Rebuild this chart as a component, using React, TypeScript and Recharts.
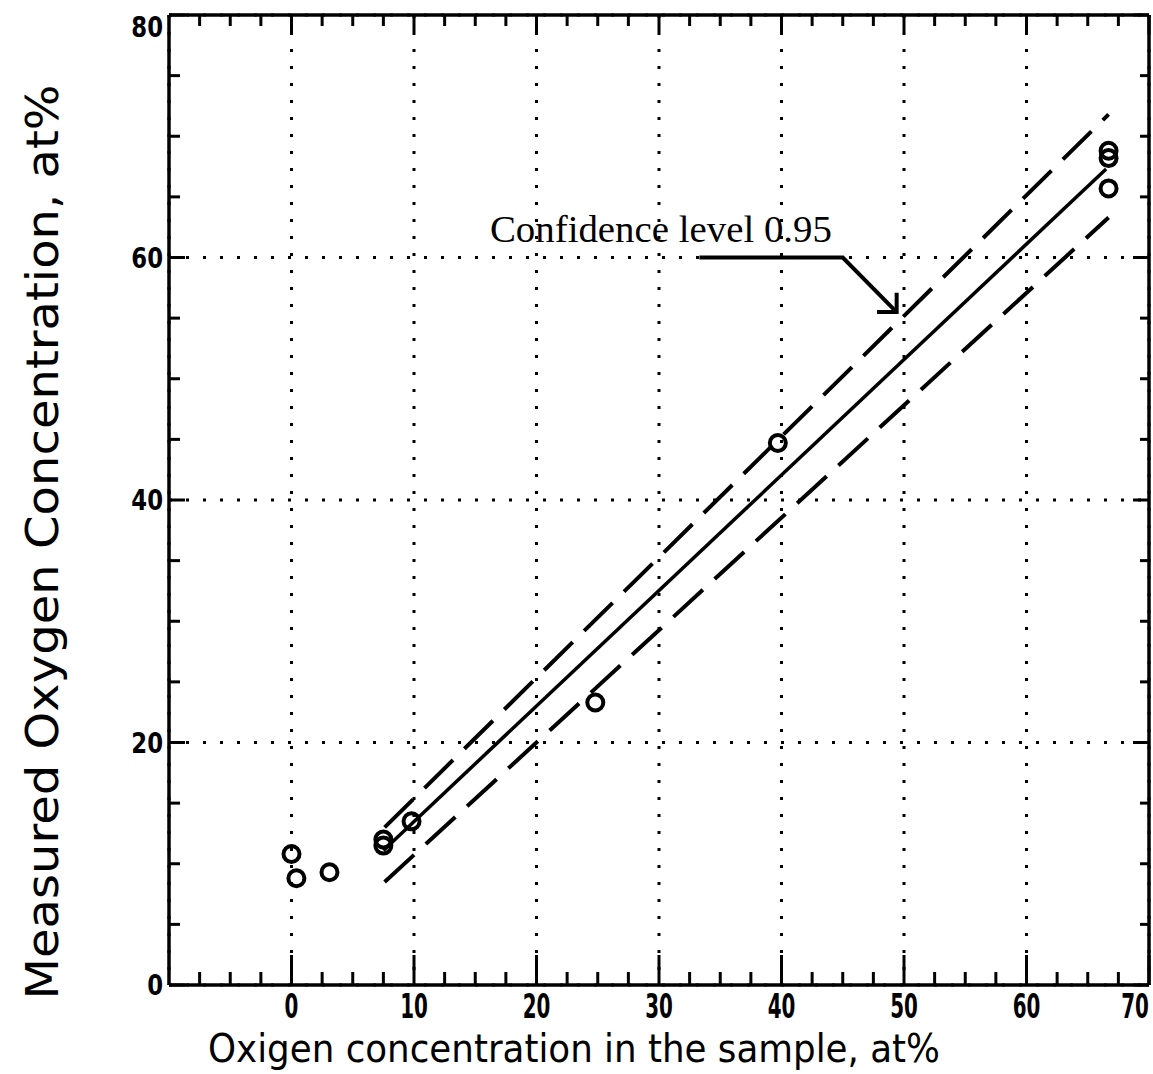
import React from 'react';
import { ScatterChart, Scatter, XAxis, YAxis, CartesianGrid } from 'recharts';

// ---- tick values ----
const xMajorTicks = [0, 10, 20, 30, 40, 50, 60, 70];
const xMinorTicks = [-7.5, -5, -2.5, 2.5, 5, 7.5, 12.5, 15, 17.5, 22.5, 25, 27.5, 32.5, 35, 37.5, 42.5, 45, 47.5, 52.5, 55, 57.5, 62.5, 65, 67.5];
const yMajorTicks = [0, 20, 40, 60, 80];
const yMinorTicks = [5, 10, 15, 25, 30, 35, 45, 50, 55, 65, 70, 75];
const xDomain = [-10, 70];
const yDomain = [0, 80];

// ---- measured points ----
const sampleX = [0.0, 0.4, 3.1, 7.5, 7.5, 9.8, 24.8, 39.7, 66.7, 66.7, 66.7];
const measuredY = [10.8, 8.8, 9.3, 12.0, 11.5, 13.5, 23.3, 44.7, 68.8, 68.2, 65.7];

// ---- regression line and confidence band ----
const fitX = [7.5, 66.5];
const fitY = [11.1, 67.3];
const upperX = [7.6, 66.7];
const upperY = [13.0, 71.8];
const lowerX = [7.6, 66.7];
const lowerY = [8.5, 63.3];

// ---- annotation ----
const annotationText = 'Confidence level 0.95';
const annotationX = [16.2];
const annotationY = [61.3];
const arrowX = [33.3, 45.0, 49.4];
const arrowY = [60, 60, 55.5];
const arrowHeadX = [47.8, 49.4, 49.4];
const arrowHeadY = [55.5, 55.5, 57.1];

const xTitle = 'Oxigen concentration in the sample, at%';
const yTitle = 'Measured Oxygen Concentration, at%';

const zip = (xs: number[], ys: number[]) => xs.map((x, i) => ({ x, y: ys[i] }));

const points = zip(sampleX, measuredY);
const fitData = zip(fitX, fitY);
const upperData = zip(upperX, upperY);
const lowerData = zip(lowerX, lowerY);
const arrowData = zip(arrowX, arrowY);
const arrowHeadData = zip(arrowHeadX, arrowHeadY);
const annotationData = zip(annotationX, annotationY);

const W = 1153;
const H = 1074;
const mainMargin = { top: 15, right: 4, bottom: 0, left: 0 };
const leftAxisWidth = 169;
const bottomAxisHeight = 89;

const tickFont = "'DejaVu Sans Condensed', 'DejaVu Sans', sans-serif";

const XTick = (props: any) => {
  const { x, y, payload } = props;
  const shift = payload.value === 70 ? -14 : 0;
  return (
    <g transform={`translate(${x + shift},${y})`}>
      <text transform="scale(0.85,1.3)" textAnchor="middle" dy="0.75em" fontFamily={tickFont} fontWeight="bold" fontSize={26} fill="#000">
        {payload.value}
      </text>
    </g>
  );
};

const YTick = (props: any) => {
  const { x, y, payload } = props;
  const extra = payload.value === 80 ? 12 : 0;
  return (
    <g transform={`translate(${x},${y + extra})`}>
      <text transform="scale(1.15,1.3)" textAnchor="end" dy="0.36em" fontFamily={tickFont} fontWeight="bold" fontSize={22} fill="#000">
        {payload.value}
      </text>
    </g>
  );
};

const EmptyTick = () => <g />;

const OpenCircle = (props: any) => {
  const { cx, cy } = props;
  return <circle cx={cx} cy={cy} r={8} fill="none" stroke="#000" strokeWidth={4} />;
};

const NoShape = () => <g />;

const AnnotationShape = (props: any) => {
  const { cx, cy } = props;
  return (
    <text x={cx} y={cy} fontFamily="'Liberation Serif', 'Times New Roman', serif" fontSize={37} textLength={342} lengthAdjust="spacingAndGlyphs" fill="#000">
      {annotationText}
    </text>
  );
};

const axisLine = { stroke: '#000', strokeWidth: 3.5 };
const tickLineStyle = { stroke: '#000', strokeWidth: 3 };
const dashedLine = { stroke: '#000', strokeWidth: 4, strokeDasharray: '40 16' };

// Overlay chart, turned half a turn, whose bottom/right inward ticks become the
// top/left inward ticks of the main frame.
const overlayMargin = {
  top: bottomAxisHeight + mainMargin.bottom,
  bottom: mainMargin.top,
  left: mainMargin.right,
  right: leftAxisWidth + mainMargin.left,
};

function FrameTicksOverlay() {
  return (
    <div style={{ position: 'absolute', left: 0, top: 0, width: W, height: H, transform: 'rotate(180deg)', pointerEvents: 'none' }}>
      <ScatterChart width={W} height={H} margin={overlayMargin}>
        <XAxis xAxisId="ot1" type="number" dataKey="x" orientation="bottom" mirror reversed domain={xDomain} allowDataOverflow ticks={xMajorTicks} interval={0}
          height={1} tickSize={17} tick={<EmptyTick />} axisLine={false} tickLine={tickLineStyle} />
        <XAxis xAxisId="ot2" type="number" dataKey="x" orientation="bottom" mirror reversed domain={xDomain} allowDataOverflow ticks={xMinorTicks} interval={0}
          height={1} tickSize={10} tick={<EmptyTick />} axisLine={false} tickLine={tickLineStyle} />
        <YAxis yAxisId="ol1" type="number" dataKey="y" orientation="right" mirror reversed domain={yDomain} allowDataOverflow ticks={yMajorTicks} interval={0}
          width={1} tickSize={16} tick={<EmptyTick />} axisLine={false} tickLine={tickLineStyle} />
        <YAxis yAxisId="ol2" type="number" dataKey="y" orientation="right" mirror reversed domain={yDomain} allowDataOverflow ticks={yMinorTicks} interval={0}
          width={1} tickSize={10} tick={<EmptyTick />} axisLine={false} tickLine={tickLineStyle} />
        <Scatter xAxisId="ot1" yAxisId="ol1" data={[]} shape={NoShape} isAnimationActive={false} />
      </ScatterChart>
    </div>
  );
}

export default function App() {
  return (
    <div style={{ position: 'absolute', left: 0, top: 0, width: W, height: H, background: '#fff' }}>
      <ScatterChart width={W} height={H} margin={mainMargin}>
        <CartesianGrid xAxisId="b1" yAxisId="l1" stroke="#000" strokeWidth={3} strokeDasharray="3 14" />

        {/* labelled axes */}
        <XAxis xAxisId="b1" type="number" dataKey="x" orientation="bottom" domain={xDomain} ticks={xMajorTicks} interval={0}
          height={bottomAxisHeight} tickSize={0} tickMargin={8} tick={<XTick />} axisLine={axisLine} tickLine={false} />
        <YAxis yAxisId="l1" type="number" dataKey="y" orientation="left" domain={yDomain} ticks={yMajorTicks} interval={0}
          width={leftAxisWidth} tickSize={0} tickMargin={6} tick={<YTick />} axisLine={axisLine} tickLine={false} />

        {/* frame: bottom and right inward tick marks, top and right frame lines */}
        <XAxis xAxisId="b2" type="number" dataKey="x" orientation="bottom" mirror domain={xDomain} allowDataOverflow ticks={xMajorTicks} interval={0}
          height={1} tickSize={30} tick={<EmptyTick />} axisLine={false} tickLine={tickLineStyle} />
        <XAxis xAxisId="b3" type="number" dataKey="x" orientation="bottom" mirror domain={xDomain} allowDataOverflow ticks={xMinorTicks} interval={0}
          height={1} tickSize={12} tick={<EmptyTick />} axisLine={false} tickLine={tickLineStyle} />
        <XAxis xAxisId="t1" type="number" dataKey="x" orientation="top" mirror domain={xDomain} allowDataOverflow ticks={xMajorTicks} interval={0}
          height={1} tickSize={0} tick={<EmptyTick />} axisLine={axisLine} tickLine={false} />
        <YAxis yAxisId="r1" type="number" dataKey="y" orientation="right" mirror domain={yDomain} allowDataOverflow ticks={yMajorTicks} interval={0}
          width={1} tickSize={16} tick={<EmptyTick />} axisLine={axisLine} tickLine={tickLineStyle} />
        <YAxis yAxisId="r2" type="number" dataKey="y" orientation="right" mirror domain={yDomain} allowDataOverflow ticks={yMinorTicks} interval={0}
          width={1} tickSize={8} tick={<EmptyTick />} axisLine={false} tickLine={tickLineStyle} />

        <Scatter xAxisId="b1" yAxisId="l1" data={upperData} fill="#000" shape={NoShape} line={dashedLine} isAnimationActive={false} />
        <Scatter xAxisId="b1" yAxisId="l1" data={lowerData} fill="#000" shape={NoShape} line={dashedLine} isAnimationActive={false} />
        <Scatter xAxisId="b1" yAxisId="l1" data={fitData} fill="#000" shape={NoShape} line={{ stroke: '#000', strokeWidth: 3.5 }} isAnimationActive={false} />
        <Scatter xAxisId="b1" yAxisId="l1" data={arrowData} fill="#000" shape={NoShape} line={{ stroke: '#000', strokeWidth: 4 }} isAnimationActive={false} />
        <Scatter xAxisId="b1" yAxisId="l1" data={arrowHeadData} fill="#000" shape={NoShape} line={{ stroke: '#000', strokeWidth: 4 }} isAnimationActive={false} />
        <Scatter xAxisId="b1" yAxisId="l1" data={points} fill="none" shape={OpenCircle} isAnimationActive={false} />
        <Scatter xAxisId="b1" yAxisId="l1" data={annotationData} fill="#000" shape={AnnotationShape} isAnimationActive={false} />

        <text x={208} y={1062} fontFamily="'DejaVu Sans', sans-serif" fontSize={39} textLength={732} lengthAdjust="spacingAndGlyphs" fill="#000">
          {xTitle}
        </text>
        <text transform="translate(42,542) rotate(-90)" textAnchor="middle" dominantBaseline="central" fontFamily="'DejaVu Sans', sans-serif" fontSize={44} textLength={915} lengthAdjust="spacingAndGlyphs" fill="#000">
          {yTitle}
        </text>
      </ScatterChart>
      <FrameTicksOverlay />
    </div>
  );
}
